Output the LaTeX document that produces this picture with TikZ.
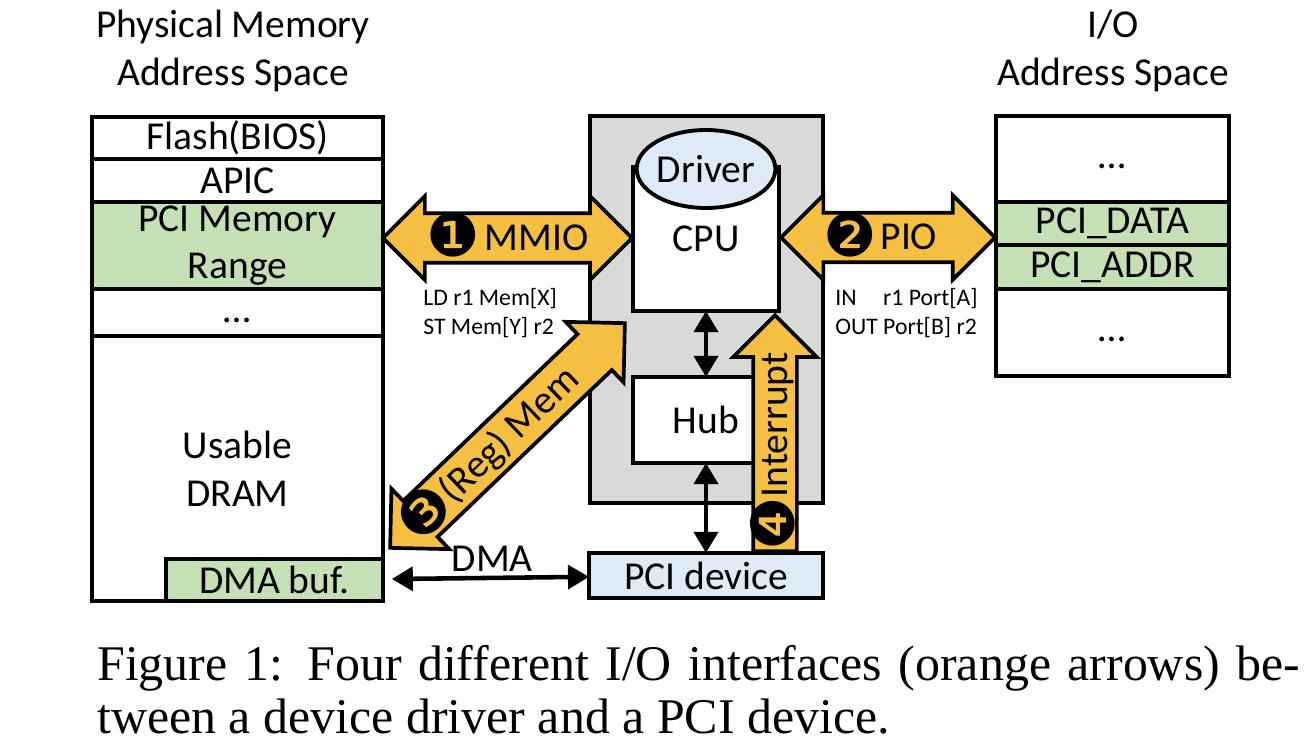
\documentclass[tikz,border=0pt]{standalone}
\usepackage{fontspec}
\setmainfont{Carlito}
\newfontfamily\capfont{Liberation Serif}
\newfontfamily\circfont{DejaVu Sans}
\usetikzlibrary{positioning,shapes.geometric,shapes.arrows,arrows.meta}
\definecolor{rowgreen}{HTML}{C5E0B4}
\definecolor{devblue}{HTML}{DEEBF7}
\definecolor{hostgray}{HTML}{D9D9D9}
\definecolor{ioorange}{HTML}{F4BF42}
\tikzset{
  box/.style={draw, line width=2.2pt, outer sep=0pt, inner sep=0pt, align=center, font=\fontsize{22.5}{27}\selectfont},
  memrow/.style={box, minimum width=5.82cm},
  iorow/.style={box, minimum width=4.66cm},
  head/.style={inner sep=0pt, font=\fontsize{22.5}{27}\selectfont},
  small/.style={inner sep=0pt, font=\fontsize{13.5}{16}\selectfont},
  bigarrow/.style={draw, line width=2.1pt, fill=ioorange, inner xsep=0pt, inner ysep=0pt, font=\fontsize{22.5}{27}\selectfont, text height=0.71cm, text depth=0.21cm},
  link/.style={line width=2.6pt, {Triangle[length=12pt,width=13.5pt]}-{Triangle[length=12pt,width=13.5pt]}},
}
\newcommand{\stepno}[1]{\raisebox{-3.7pt}{\fontsize{34}{34}\circfont #1}}
\begin{document}
\begin{tikzpicture}[x=0.02cm, y=-0.02cm]
\useasboundingbox (0,0) rectangle (1314,756);

\node[head, anchor=base] (memhead) at (233,38) {\begin{tabular}[t]{@{}c@{}}Physical Memory\\Address Space\end{tabular}};
\node[head, anchor=base] (iohead) at (1113,38) {\begin{tabular}[t]{@{}c@{}}I/O\\Address Space\end{tabular}};

\node[memrow, minimum height=0.84cm] (flash) at (237.5,138) {Flash(BIOS)};
\node[memrow, minimum height=0.86cm, below=0pt of flash] (apic) {APIC};
\node[memrow, minimum height=1.74cm, fill=rowgreen, below=0pt of apic] (pcimem) {PCI Memory\\Range};
\node[memrow, minimum height=0.86cm, below=0pt of pcimem] (memdots) {\strut…};
\node[memrow, minimum height=5.30cm, below=0pt of memdots] (dram) {Usable\\DRAM};
\node[box, minimum width=4.34cm, minimum height=0.84cm, fill=rowgreen, anchor=south east] (dmabuf) at (dram.south east) {DMA buf.};

\node[iorow, minimum height=1.72cm] (iotop) at (1112.5,159) {\strut…};
\node[iorow, minimum height=0.86cm, fill=rowgreen, below=0pt of iotop] (pcidata) {PCI\_DATA};
\node[iorow, minimum height=0.88cm, fill=rowgreen, below=0pt of pcidata] (pciaddr) {PCI\_ADDR};
\node[iorow, minimum height=1.74cm, below=0pt of pciaddr] (iobot) {\strut…};

\node[box, fill=hostgray, minimum width=4.66cm, minimum height=7.74cm] (host) at (706.5,309.5) {};
\node[box, fill=white, minimum width=2.92cm, minimum height=2.88cm] (cpu) at (706,239) {CPU};
\node[box, ellipse, fill=devblue, minimum width=2.52cm, minimum height=1.56cm] (driver) at (706,169) {Driver};
\node[box, fill=white, minimum width=2.92cm, minimum height=1.72cm] (hub) at (706,420) {Hub};
\node[box, fill=devblue, minimum width=4.68cm, minimum height=0.9cm] (pcidev) at (706,575.5) {PCI device};

\draw[link] (cpu) -- (hub);
\draw[link] (hub) -- (pcidev);
\draw[link, shorten <=5pt] (dmabuf) -- node[head, above=2.5pt, pos=0.53] (dmalabel) {DMA} (pcidev);

\node[bigarrow, double arrow, double arrow head extend=0.34cm, minimum height=4.98cm] (mmio) at (507.5,238) {\stepno{❶}\hspace{0.12em}MMIO};
\node[bigarrow, double arrow, double arrow head extend=0.35cm, minimum height=4.28cm] (pio) at (888,237.5) {\makebox[0pt]{\stepno{❷}\hspace{0.08em}PIO\kern0.3cm}};
\node[bigarrow, double arrow, double arrow head extend=0.34cm, minimum height=6.5cm, rotate=43.75] (regmem) at (507.5,435.5) {\makebox[0pt]{\stepno{❸}(Reg) Mem\kern1cm}};
\node[bigarrow, single arrow, single arrow head extend=0.4cm, minimum height=4.72cm, rotate=90, text height=0.65cm, text depth=0.15cm, anchor=tail] (intr) at (775,553) {\makebox[0pt]{\stepno{❹}Interrupt\kern0.3cm}};

\node[small, anchor=base west] (ldst) at (423,306) {\begin{tabular}[t]{@{}l@{}}LD r1 Mem[X]\\ST Mem[Y] r2\end{tabular}};
\node[small, anchor=base west] (inout) at (835,306) {\begin{tabular}[t]{@{}l@{\ }l@{}}IN & r1 Port[A]\\OUT & Port[B] r2\end{tabular}};

\node[anchor=base west, inner sep=0pt, font=\capfont\fontsize{28.4}{30.2}\selectfont] (caption) at (97,680) {\begin{tabular}[t]{@{}l@{}}\makebox[24.06cm][s]{Figure 1: Four different I/O interfaces (orange arrows) be-}\\tween a device driver and a PCI device.\end{tabular}};
\end{tikzpicture}
\end{document}
